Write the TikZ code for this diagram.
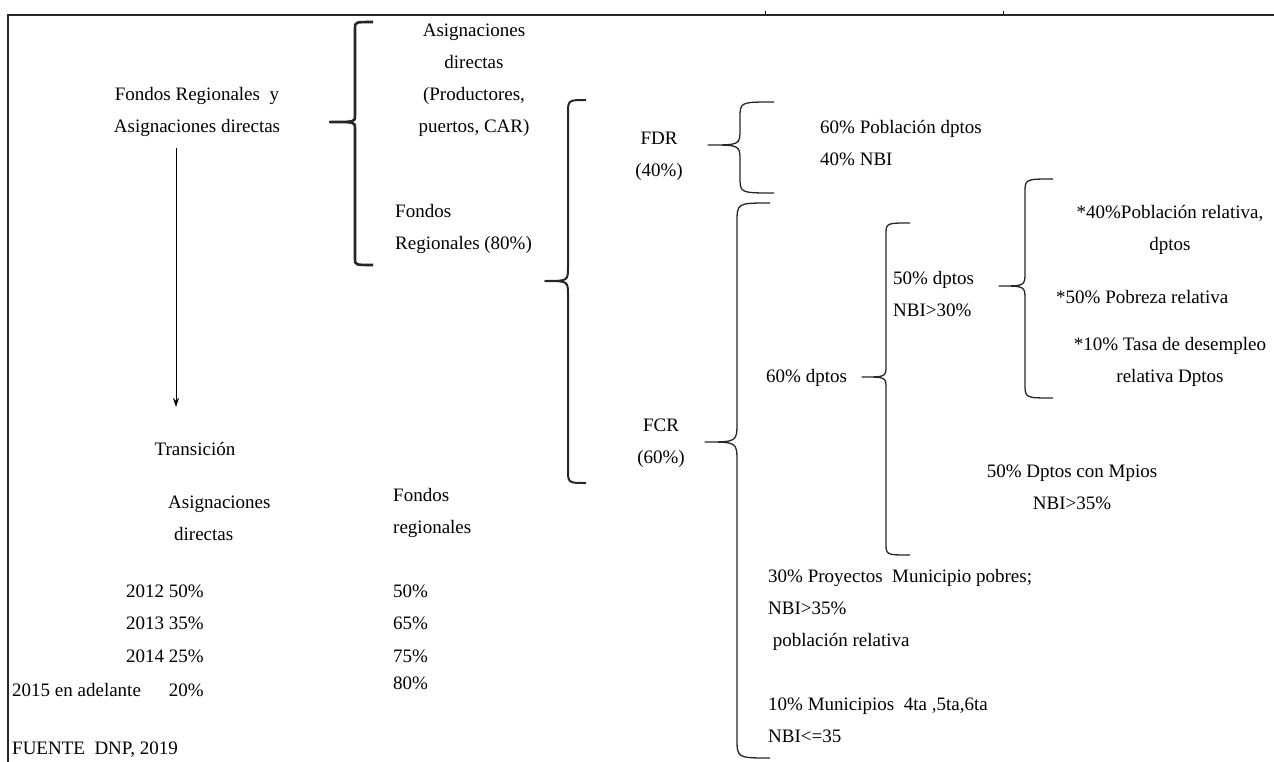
\documentclass[tikz,border=0pt]{standalone}
\usepackage{fontspec}
\setmainfont{Liberation Serif}
\usetikzlibrary{arrows.meta}
% #1 style, #2 X vertical, #3 top y, #4 bottom y, #5 cusp y, #6 cusp tip x, #7 hook end x, #8 radius
\newcommand{\curlyL}[8][]{%
  \draw[brc,#1] ({#7},{#3}) .. controls ({#2},{#3}) .. ({#2},{#3+#8})
     -- ({#2},{#5-#8}) .. controls ({#2},{#5}) .. ({#6},{#5})
     .. controls ({#2},{#5}) .. ({#2},{#5+#8})
     -- ({#2},{#4-#8}) .. controls ({#2},{#4}) .. ({#7},{#4});}
\begin{document}
\begin{tikzpicture}[x=1pt,y=-1pt,
  every node/.style={inner sep=0pt, font=\fontsize{19}{32}\selectfont, text=black},
  brc/.style={line width=1.3pt, draw=black!85, line join=round}]
\useasboundingbox (0,0) rectangle (1274,762);
% frame
\draw[line width=1.6pt, draw=black!85] (1274,15) -- (8,15) -- (8,762);
\draw[line width=0.8pt] (765,11) -- (765,15);
\draw[line width=0.8pt] (1003,11) -- (1003,15);
% left part
\node[align=center] (fra) at (197,112) {Fondos Regionales~ y\\Asignaciones directas};
\coordinate (aS) at (176,148);
\coordinate (aE) at (176,407);
\draw[-{Stealth[length=9pt,width=6pt]}, line width=0.9pt] (aS) -- (aE);
\curlyL[line width=2.6pt]{355}{22}{265}{122}{330}{373}{6}
\node[align=center] (ad) at (474,80) {Asignaciones\\directas\\(Productores,\\puertos, CAR)};
\node[align=left, anchor=west] (fr) at (395,229) {Fondos\\Regionales (80\%)};
\curlyL[line width=2pt]{568}{100}{483}{281}{545}{586}{14}
\node[align=center] (fdr) at (659,156) {FDR\\(40\%)};
\curlyL{740}{102}{193}{145}{708}{774}{16}
\node[align=left, anchor=west] (fdrv) at (820,143) {60\% Población dptos\\40\% NBI};
\node[align=center] (fcr) at (661,443) {FCR\\(60\%)};
\curlyL{737}{203}{758}{442}{705}{770}{20}
\node[anchor=west] (d60) at (766,378) {60\% dptos};
\curlyL{886}{223}{555}{377}{862}{910}{12}
\node[align=left, anchor=west] (d50) at (893,294) {50\% dptos\\NBI>30\%};
\curlyL{1025}{179}{398}{286}{999}{1053}{14}
\node[align=center] (p40) at (1170,230) {*40\%Población relativa,\\dptos};
\node[anchor=west] (p50) at (1056,297) {*50\% Pobreza relativa};
\node[align=center] (p10) at (1170,362) {*10\% Tasa de desempleo\\relativa Dptos};
\node[align=center] (m50) at (1072,487) {50\% Dptos con Mpios\\NBI>35\%};
\node[align=left, anchor=west] (m30) at (768,610) {30\% Proyectos\ \ Municipio pobres;\\NBI>35\%\\\ población relativa};
\node[align=left, anchor=west] (m10) at (768,720) {10\% Municipios\ \ 4ta ,5ta,6ta\\NBI<=35};
% transition table
\node (tr) at (195,449) {Transición};
\node[align=left, anchor=west] (tad) at (168,518) {Asignaciones\\\hspace*{6pt}directas};
\node[align=left, anchor=west] (tfr) at (393,513) {Fondos\\regionales};
\node[anchor=east] (y12) at (204,591) {2012 50\%};
\node[anchor=east] (y13) at (204,623) {2013 35\%};
\node[anchor=east] (y14) at (204,656) {2014 25\%};
\node[anchor=west] (y15) at (12,690) {2015 en adelante};
\node[anchor=east] (v15) at (204,690) {20\%};
\node[anchor=west] (r12) at (393,591) {50\%};
\node[anchor=west] (r13) at (393,623) {65\%};
\node[anchor=west] (r14) at (393,656) {75\%};
\node[anchor=west] (r15) at (393,683) {80\%};
\node[anchor=west] (src) at (12,750) {FUENTE\ \ DNP, 2019};
\end{tikzpicture}
\end{document}
